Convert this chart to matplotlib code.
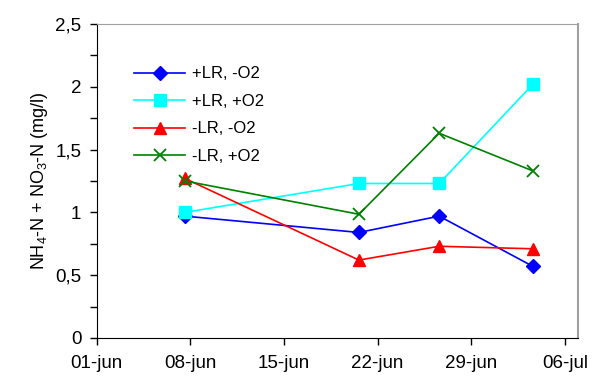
import matplotlib
matplotlib.use('Agg')
import matplotlib.pyplot as plt
from matplotlib.ticker import MultipleLocator, FuncFormatter

plt.rcParams['font.family'] = ['Liberation Sans', 'DejaVu Sans']
plt.rcParams['mathtext.default'] = 'regular'

# Données (jours depuis le 01-jun)
jours = [6.6, 19.6, 25.6, 32.6]
series = ['+LR, -O2', '+LR, +O2', '-LR, -O2', '-LR, +O2']
lr_moins_o2 = [0.97, 0.84, 0.97, 0.57]
lr_plus_o2 = [1.00, 1.23, 1.23, 2.02]
sans_lr_moins_o2 = [1.27, 0.62, 0.73, 0.71]
sans_lr_plus_o2 = [1.25, 0.985, 1.63, 1.33]
tick_labels = ['01-jun', '08-jun', '15-jun', '22-jun', '29-jun', '06-jul']

fig = plt.figure(figsize=(6, 3.81), dpi=100)
ax = fig.add_axes([0.161, 0.113, 0.803, 0.824])

ax.plot(jours, lr_moins_o2, color='#0000ff', marker='D', markersize=7.5, lw=1.2, label=series[0])
ax.plot(jours, lr_plus_o2, color='#00ffff', marker='s', markersize=8, lw=1.2, label=series[1])
ax.plot(jours, sans_lr_moins_o2, color='#ff0000', marker='^', markersize=9, lw=1.2, label=series[2])
ax.plot(jours, sans_lr_plus_o2, color='#008000', marker='x', markersize=9, mew=1.3, lw=1.2, label=series[3])

ax.set_xlim(0, 36)
ax.set_ylim(0, 2.5)
ax.set_xticks([0, 7, 14, 21, 28, 35])
ax.set_xticklabels(tick_labels)
ax.yaxis.set_major_locator(MultipleLocator(0.5))
ax.yaxis.set_minor_locator(MultipleLocator(0.25))
ax.yaxis.set_major_formatter(FuncFormatter(lambda v, p: ('%g' % v).replace('.', ',')))
ax.tick_params(axis='both', direction='out', labelsize=13.5, length=5, width=1)
ax.tick_params(axis='x', pad=7)
ax.tick_params(axis='y', pad=6)
ax.tick_params(axis='y', which='minor', direction='out', length=5, width=1)

ax.spines['top'].set_color('#a0a0a0')
ax.spines['right'].set_color('#a0a0a0')
ax.spines['right'].set_linewidth(1.5)

ax.set_ylabel('NH$_4$-N + NO$_3$-N (mg/l)', fontsize=13, labelpad=4)

ax.legend(loc='upper left', bbox_to_anchor=(0.077, 0.865), frameon=False, fontsize=12,
          handlelength=3.1, labelspacing=0.75, handletextpad=0.4,
          borderaxespad=0, borderpad=0)

fig.savefig('out.png', dpi=100)
